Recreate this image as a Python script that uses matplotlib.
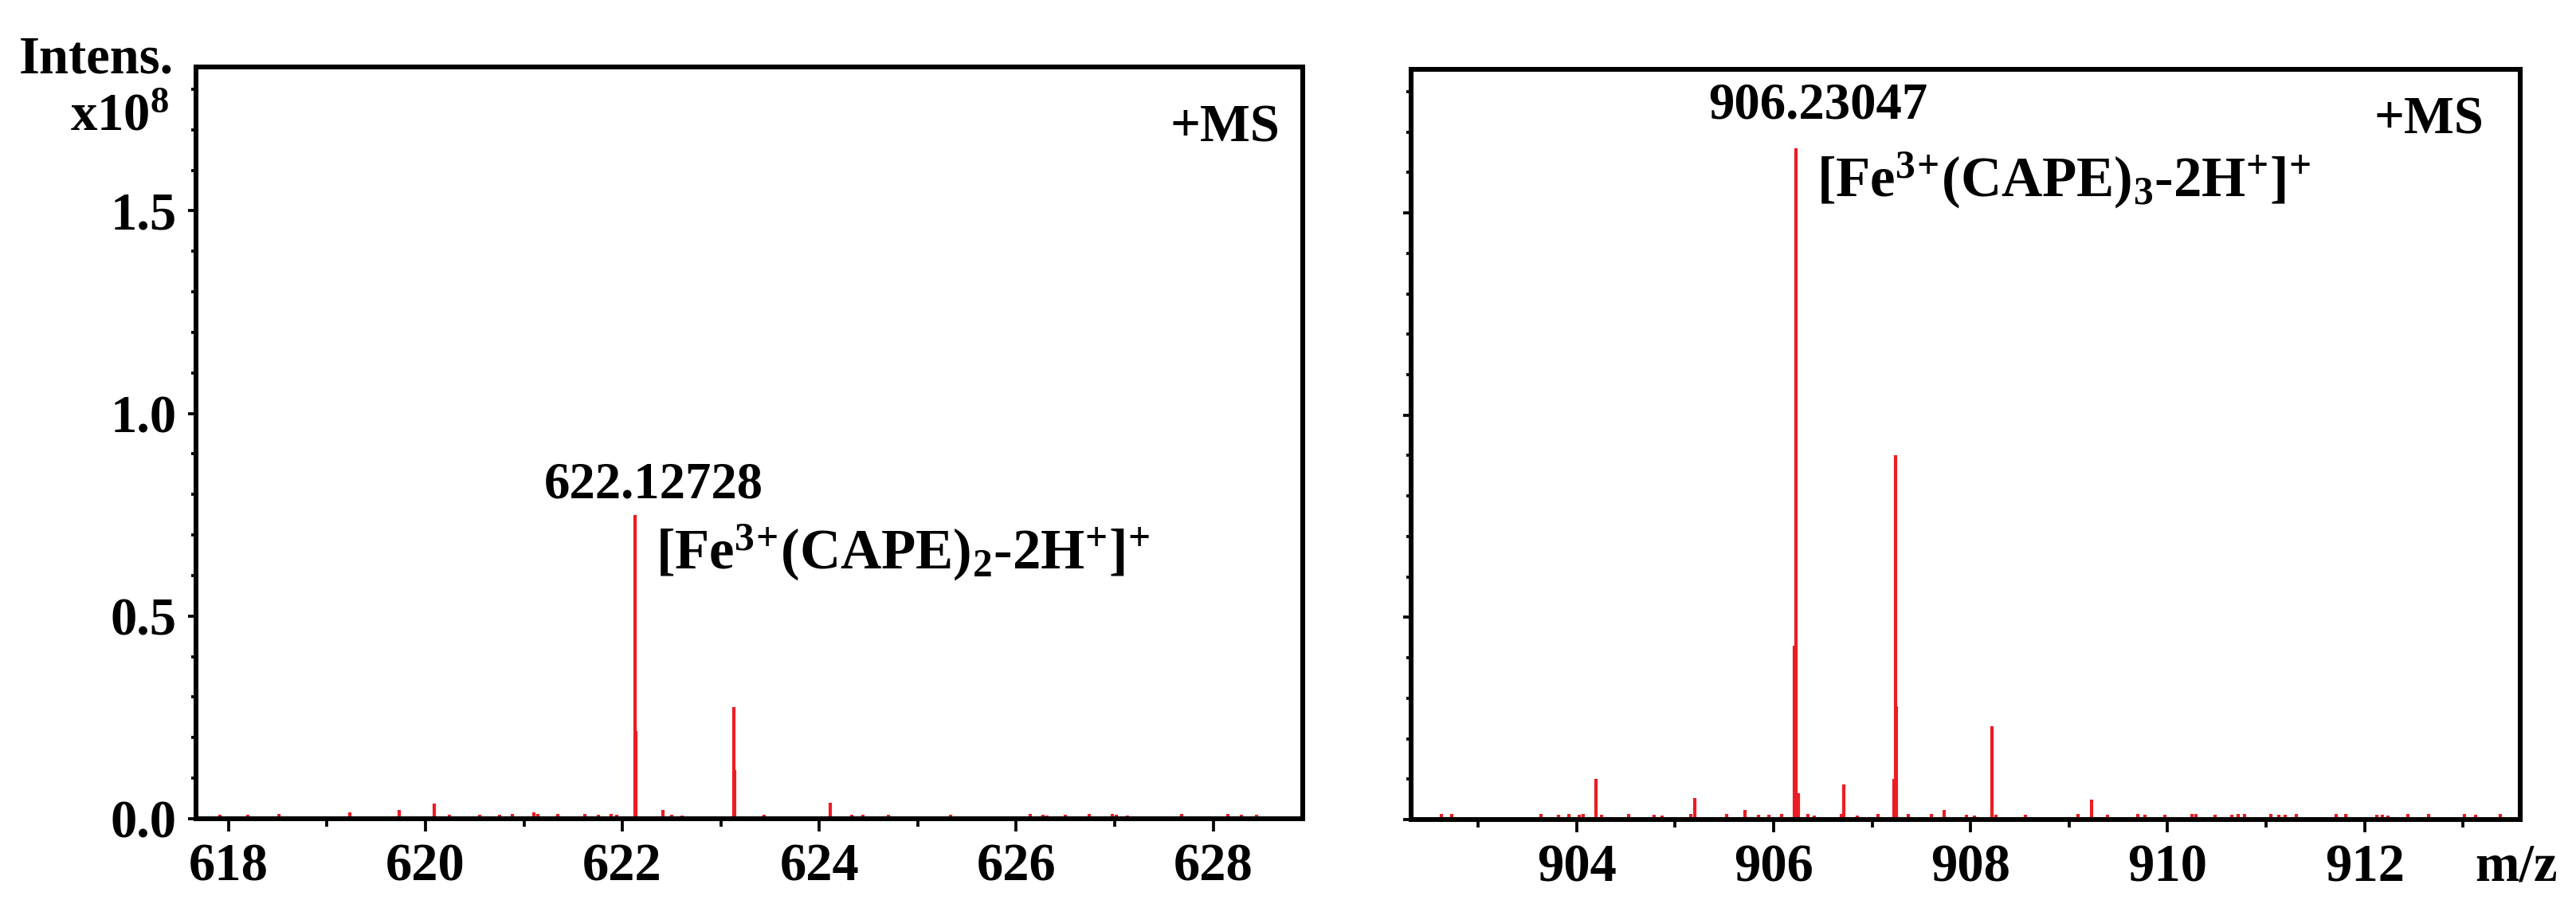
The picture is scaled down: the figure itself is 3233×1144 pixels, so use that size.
import matplotlib
matplotlib.use('Agg')
import matplotlib.pyplot as plt
from matplotlib.ticker import MultipleLocator, FormatStrFormatter

plt.rcParams['font.family'] = ['Liberation Serif', 'DejaVu Serif']
plt.rcParams['font.weight'] = 'bold'
plt.rcParams['mathtext.fontset'] = 'custom'
plt.rcParams['mathtext.rm'] = 'Liberation Serif:bold'
plt.rcParams['mathtext.it'] = 'Liberation Serif:bold'
plt.rcParams['mathtext.bf'] = 'Liberation Serif:bold'

# ---------------- data (intensity in units of 1e8) ----------------
left_mz = [617.91, 618.20, 618.51, 619.23, 619.73, 620.09, 620.24, 620.55, 620.75,
           620.88, 621.10, 621.14, 621.34, 621.62, 621.76, 621.89, 621.94,
           622.127, 622.14, 622.41, 622.50, 622.61, 623.13, 623.14, 623.44,
           624.11, 624.33, 624.44, 624.70, 625.33, 626.14, 626.27, 626.31,
           626.50, 626.74, 626.98, 627.02, 627.13, 627.68, 628.15, 628.29, 628.44]
left_int = [0.010, 0.010, 0.012, 0.016, 0.022, 0.037, 0.010, 0.010, 0.010,
            0.011, 0.016, 0.011, 0.012, 0.012, 0.010, 0.012, 0.010,
            0.75, 0.216, 0.022, 0.010, 0.008, 0.275, 0.12, 0.010,
            0.040, 0.010, 0.010, 0.010, 0.010, 0.012, 0.010, 0.008,
            0.010, 0.011, 0.011, 0.010, 0.008, 0.011, 0.011, 0.010, 0.010]

right_mz = [902.63, 902.73, 903.64, 903.82, 903.92, 904.03, 904.07, 904.20, 904.25,
            904.53, 904.79, 904.87, 905.16, 905.20, 905.52, 905.71, 905.85, 905.95,
            906.08, 906.21, 906.23, 906.25, 906.35, 906.41, 906.69, 906.71, 906.85,
            907.06, 907.22, 907.235, 907.25, 907.37, 907.60, 907.73, 907.96, 908.04,
            908.22, 908.26, 908.56, 909.09, 909.23, 909.39, 909.70, 909.77, 909.97,
            910.25, 910.29, 910.48, 910.65, 910.72, 910.78, 911.05, 911.13, 911.19,
            911.31, 911.71, 911.81, 912.12, 912.18, 912.24, 912.44, 912.65, 913.01,
            913.13, 913.38]
right_int = [0.014, 0.014, 0.014, 0.012, 0.014, 0.012, 0.014, 0.100, 0.012,
             0.014, 0.012, 0.010, 0.014, 0.053, 0.014, 0.023, 0.012, 0.012,
             0.014, 0.43, 1.66, 0.065, 0.014, 0.010, 0.014, 0.087, 0.010,
             0.014, 0.10, 0.90, 0.28, 0.014, 0.014, 0.023, 0.012, 0.010,
             0.231, 0.012, 0.012, 0.014, 0.050, 0.012, 0.014, 0.012, 0.012,
             0.014, 0.014, 0.012, 0.012, 0.014, 0.014, 0.014, 0.012, 0.012,
             0.014, 0.014, 0.014, 0.012, 0.012, 0.010, 0.014, 0.014, 0.014,
             0.012, 0.014]

left_peak_label = '622.12728'
left_ion = r'[Fe$^{3\!+\!}$(CAPE)$_{2}$-2H$^{+}$]$^{+}$'
right_peak_label = '906.23047'
right_ion = r'[Fe$^{3\!+\!}$(CAPE)$_{3}$-2H$^{+}$]$^{+}$'

RED = '#ed1c24'
W, H, DPI = 3233, 1144, 300
fig = plt.figure(figsize=(W / DPI, H / DPI), dpi=DPI)

def px_axes(x0, x1, ytop, ybot):
    return fig.add_axes([x0 / W, (H - ybot) / H, (x1 - x0) / W, (ybot - ytop) / H])

axL = px_axes(246, 1635, 84, 1027)
axR = px_axes(1771, 3163, 87, 1028)

for ax in (axL, axR):
    for s in ax.spines.values():
        s.set_linewidth(1.45)
    ax.yaxis.set_major_locator(MultipleLocator(0.5))
    ax.yaxis.set_minor_locator(MultipleLocator(0.1))
    ax.xaxis.set_major_locator(MultipleLocator(2))
    ax.xaxis.set_minor_locator(MultipleLocator(1))
    ax.tick_params(axis='x', which='major', length=3.8, width=0.9, direction='out',
                   labelsize=16, pad=3.5)
    ax.tick_params(axis='x', which='minor', length=2.4, width=0.9, direction='out')
    ax.tick_params(axis='y', which='major', length=2.4, width=0.9, direction='out',
                   labelsize=16, pad=3.5)
    ax.tick_params(axis='y', which='minor', length=1.5, width=0.9, direction='out')
    ax.set_ylim(0, 1.855)

axL.vlines(left_mz, 0, left_int, colors=RED, lw=1.0)
axR.vlines(right_mz, 0, right_int, colors=RED, lw=1.0)

axL.set_xlim(617.67, 628.91)
axR.set_xlim(902.32, 913.58)
axL.yaxis.set_major_formatter(FormatStrFormatter('%.1f'))
axR.tick_params(axis='y', labelleft=False)

for ax in (axL, axR):
    for lab in ax.get_xticklabels() + ax.get_yticklabels():
        lab.set_fontweight('bold')

# annotations
axL.text(622.32, 0.792, left_peak_label, ha='center', va='baseline', fontsize=15.5,
         fontweight='bold')
axL.text(622.34, 0.617, left_ion, ha='left', va='baseline', fontsize=17,
         fontweight='bold')
axR.text(906.45, 1.733, right_peak_label, ha='center', va='baseline', fontsize=15.5,
         fontweight='bold')
axR.text(906.44, 1.541, right_ion, ha='left', va='baseline', fontsize=17,
         fontweight='bold')

axL.text(628.68, 1.672, '+MS', ha='right', va='baseline', fontsize=16, fontweight='bold')
axR.text(913.21, 1.697, '+MS', ha='right', va='baseline', fontsize=16, fontweight='bold')

fig.text(218 / W, (H - 92) / H, 'Intens.', ha='right', va='baseline', fontsize=16,
         fontweight='bold')
fig.text(212 / W, (H - 163) / H, r'x10$^{8}$', ha='right', va='baseline', fontsize=16,
         fontweight='bold')
fig.text(3158 / W, (H - 1104) / H, 'm/z', ha='center', va='baseline', fontsize=16,
         fontweight='bold')

fig.savefig('out.png', dpi=DPI)
